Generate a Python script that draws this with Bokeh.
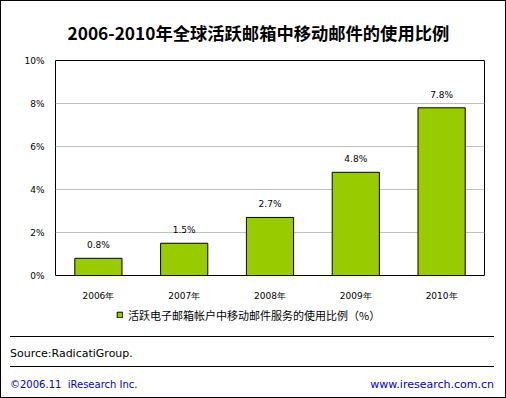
from bokeh.plotting import figure
from bokeh.layouts import column
from bokeh.models import (Range1d, FactorRange, FixedTicker, PrintfTickFormatter, Title,
                          Legend, LegendItem, ColumnDataSource, Div)
from bokeh.core.properties import value
from bokeh.embed import file_html
from bokeh.resources import INLINE

years = ["2006年", "2007年", "2008年", "2009年", "2010年"]
values = [0.8, 1.5, 2.7, 4.8, 7.8]
value_labels = ["0.8%", "1.5%", "2.7%", "4.8%", "7.8%"]
y_ticks = [0, 2, 4, 6, 8, 10]
title_text = "2006-2010年全球活跃邮箱中移动邮件的使用比例"
legend_text = "活跃电子邮箱帐户中移动邮件服务的使用比例（%）"
source_text = "Source:RadicatiGroup."
copyright_text = "©2006.11  iResearch Inc."
site_text = "www.iresearch.com.cn"

BAR_COLOR = "#99cc00"
BLUE = "#0000cc"
W = 504                  # inner width (the column draws a 1px border)
FL, FR, FT, FB = 55, 484, 60, 275   # frame edges in window pixels
Y_CHART_END = 306
Y_LEG_END = 327
Y_END = 397

# ---- chart -------------------------------------------------------------
src = ColumnDataSource(dict(x=years, top=values, lab=value_labels))
p = figure(x_range=years, y_range=Range1d(0, 10), width=W, height=Y_CHART_END - 1,
           output_backend="svg", toolbar_location=None,
           min_border_left=FL - 1, min_border_right=(W + 1) - FR,
           min_border_top=FT - 1, min_border_bottom=Y_CHART_END - FB)
p.background_fill_color = "white"
p.border_fill_color = "white"
p.outline_line_color = "black"

p.add_layout(Title(text=title_text, align="left", offset=67 - FL,
                   text_font="Noto Sans CJK SC", text_font_size="17.3px",
                   text_font_style="bold", text_color="black", standoff=31), "above")

bars = p.vbar(x="x", top="top", width=0.55, source=src,
              fill_color=BAR_COLOR, line_color="black", line_width=1)
p.text(x="x", y="top", text="lab", source=src, y_offset=-13,
       text_align="center", text_baseline="middle",
       text_font=value("DejaVu Sans"), text_font_size="9px", text_color="black")

p.xgrid.grid_line_color = None
p.ygrid.grid_line_color = "#c0c0c0"
p.ygrid.ticker = FixedTicker(ticks=y_ticks)
p.yaxis.ticker = FixedTicker(ticks=y_ticks)
p.yaxis.formatter = PrintfTickFormatter(format="%d%%")
for ax in (p.xaxis[0], p.yaxis[0]):
    ax.axis_line_color = None
    ax.major_tick_line_color = None
    ax.minor_tick_line_color = None
    ax.major_tick_out = 0
    ax.major_tick_in = 0
    ax.minor_tick_out = 0
    ax.major_label_text_font = "DejaVu Sans"
    ax.major_label_text_font_size = "9px"
    ax.major_label_text_color = "black"
p.yaxis.major_label_standoff = 11
p.xaxis.major_label_standoff = 15

# ---- legend strip (frame aligned with the chart's frame) ---------------
# the key renderer shares the chart data but its x range holds no year,
# so only the legend swatch is drawn
lf = figure(width=W, height=Y_LEG_END - Y_CHART_END, x_range=FactorRange("key"),
            y_range=Range1d(0, 10), output_backend="svg", toolbar_location=None,
            x_axis_type=None, y_axis_type=None,
            min_border_left=FL - 1, min_border_right=(W + 1) - FR,
            min_border_top=0, min_border_bottom=0)
lf.outline_line_color = None
lf.grid.grid_line_color = None
lf.background_fill_color = "white"
lf.border_fill_color = "white"
key = lf.vbar(x="x", top="top", width=0.55, source=src,
              fill_color=BAR_COLOR, line_color="black", line_width=1)
legend = Legend(items=[LegendItem(label=legend_text, renderers=[key])],
                location=(116 - FL, Y_LEG_END - 322.5), orientation="horizontal",
                glyph_width=7, glyph_height=7, label_standoff=5,
                padding=0, margin=0, spacing=0,
                border_line_color=None, background_fill_alpha=0,
                label_text_font="Noto Sans CJK SC", label_text_font_size="11px",
                label_text_color="black")
lf.add_layout(legend)

# ---- footer: source and copyright ---------------------------------------
fh = Y_END - Y_LEG_END
y0 = Y_LEG_END
txt = "position:absolute;font-family:'DejaVu Sans';line-height:13px;white-space:pre;"
footer_html = (
    f'<div style="position:relative;width:{W}px;height:{fh}px;background:white;">'
    f'<div style="position:absolute;left:9px;top:{336 - y0}px;width:484px;height:1px;background:black;"></div>'
    f'<div style="{txt}font-size:11px;left:9px;top:{353 - y0 - 6.5}px;color:black;">{source_text}</div>'
    f'<div style="position:absolute;left:9px;top:{366 - y0}px;width:484px;height:1px;background:black;"></div>'
    f'<div style="{txt}font-size:10px;left:9px;top:{384 - y0 - 6.5}px;color:{BLUE};">{copyright_text}</div>'
    f'<div style="{txt}font-size:11px;right:{W + 1 - 494}px;top:{384 - y0 - 6.5}px;color:{BLUE};">{site_text}</div>'
    '</div>'
)
foot = Div(text=footer_html, width=W, height=fh, margin=0)

layout = column(p, lf, foot, spacing=0,
                styles={"border": "1px solid black", "background-color": "white"})

open("out.html", "w").write(file_html(layout, INLINE))
